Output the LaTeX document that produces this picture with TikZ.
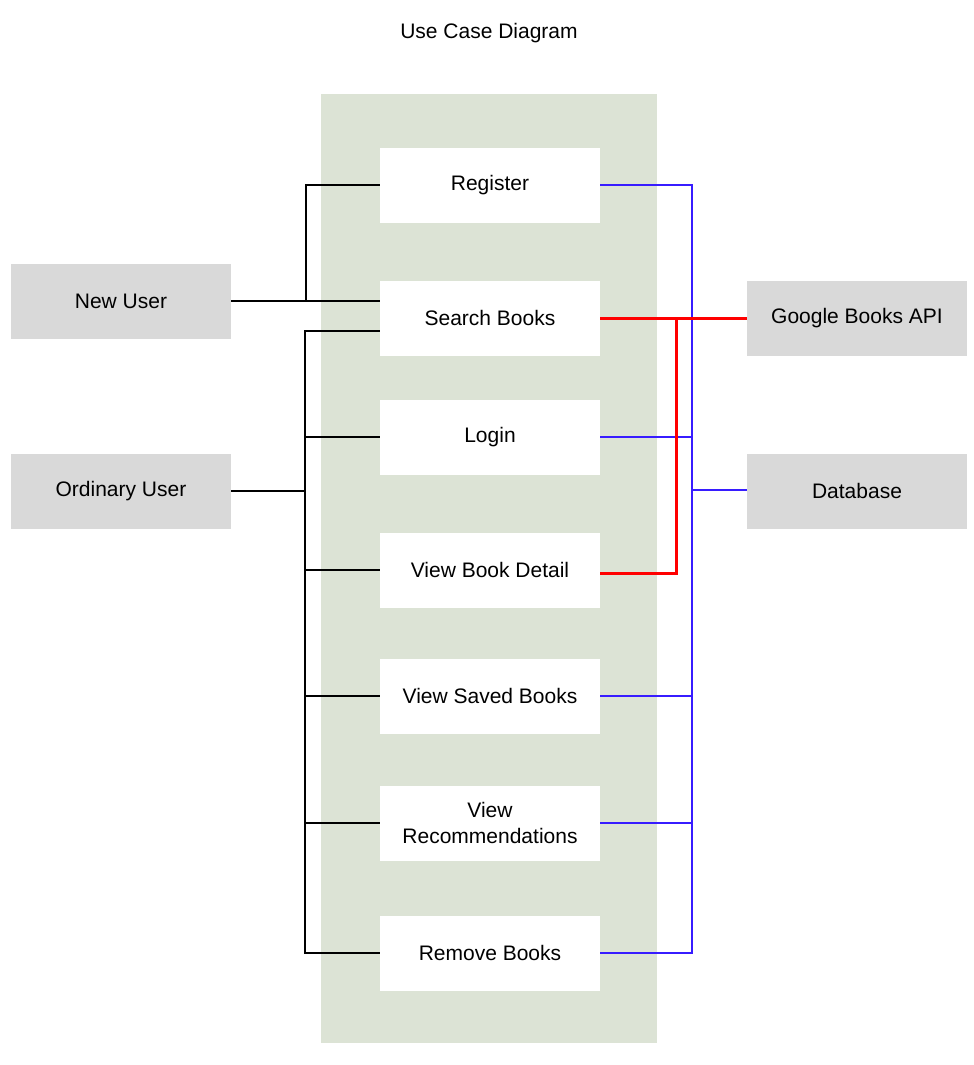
\documentclass[tikz,border=0pt]{standalone}
\usepackage{fontspec}
\setmainfont{Liberation Sans}
\usetikzlibrary{calc}
\definecolor{systemgreen}{RGB}{220,227,213}
\definecolor{actorgrey}{RGB}{217,217,217}
\definecolor{dbblue}{RGB}{55,28,255}

\begin{document}
\begin{tikzpicture}[x=1pt, y=-1pt,
    every node/.style={font=\fontsize{21}{26}\selectfont, align=center, inner sep=0pt},
    usecase/.style={fill=white, minimum width=220pt, minimum height=75pt},
    actor/.style={fill=actorgrey, minimum width=220pt, minimum height=75pt},
    userline/.style={black, line width=1.6pt},
    dbline/.style={dbblue, line width=1.6pt},
    apiline/.style={red, line width=3pt}]

    \useasboundingbox (0,0) rectangle (974,1065);
    \node at (489,33) (Title) {Use Case Diagram};
    \fill[systemgreen] (321,94) rectangle (657,1043);

    \node[usecase] at (490,185) (Register) {Register};
    \node[usecase] at (490,318) (Search) {Search Books};
    \node[usecase] at (490,437) (Login) {Login};
    \node[usecase] at (490,570) (Detail) {View Book Detail};
    \node[usecase] at (490,696) (Saved) {View Saved Books};
    \node[usecase] at (490,823) (Recs) {View\\Recommendations};
    \node[usecase] at (490,953) (Remove) {Remove Books};

    \node[actor] at (121,301) (NewUser) {New User};
    \node[actor] at (121,491) (Ordinary) {Ordinary User};
    \node[actor] at (857,318) (Google) {Google Books API};
    \node[actor] at (857,491) (Database) {Database};

    \coordinate (newbus) at (306,301);
    \coordinate (ordbus) at (305,491);
    \coordinate (dbbus) at (692,490);
    \coordinate (apibus) at (676,318);

    \draw[userline] (NewUser.east) -- (NewUser.east -| Search.west);
    \draw[userline] (newbus) |- (Register.west);
    \draw[userline] (Ordinary.east) -- (ordbus);
    \draw[userline] ([yshift=-13pt]Search.west) -| (ordbus) |- (Remove.west);
    \foreach \u in {Login,Detail,Saved,Recs}
        \draw[userline] (ordbus |- \u.west) -- (\u.west);

    \draw[dbline] (Register.east) -| (dbbus |- Remove.east) -- (Remove.east);
    \foreach \u in {Login,Saved,Recs}
        \draw[dbline] (\u.east) -- (dbbus |- \u.east);
    \draw[dbline] (dbbus) -- (dbbus -| Database.west);

    \draw[apiline] (Search.east) -- (Google.west);
    \draw[apiline] (apibus) |- ([yshift=-3pt]Detail.east);
    
\end{tikzpicture}
\end{document}
